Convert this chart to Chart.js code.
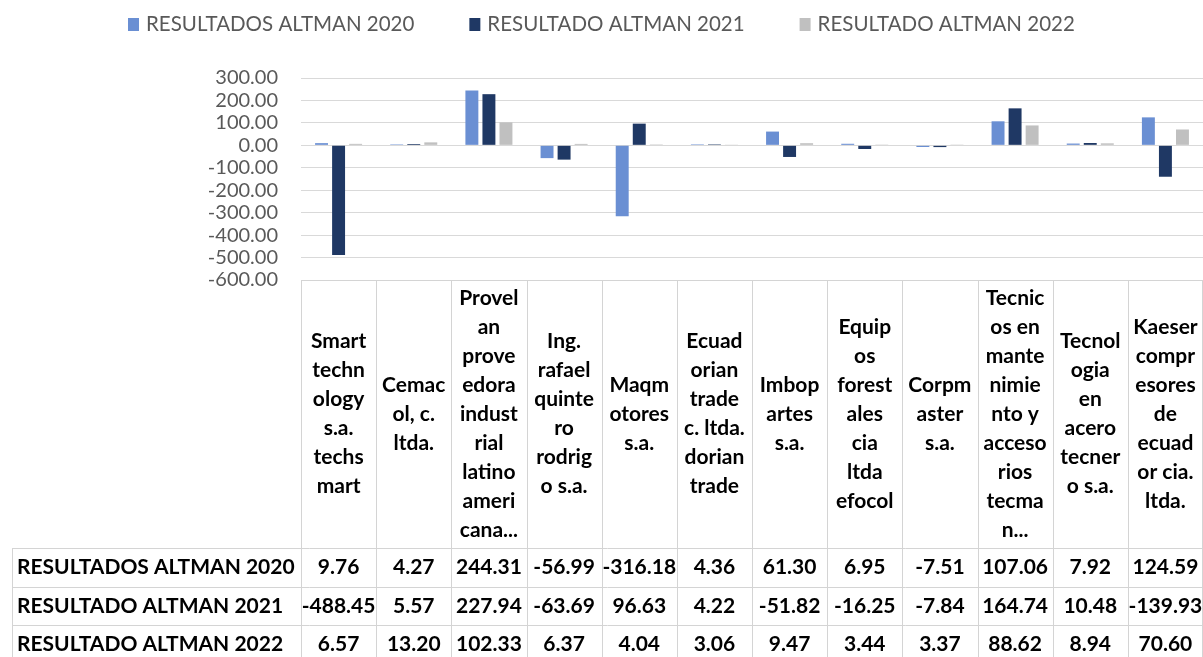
<!DOCTYPE html>
<html>
<head>
<meta charset="utf-8">
<script src="https://cdn.jsdelivr.net/npm/chart.js@4.4.0/dist/chart.umd.min.js"></script>
<style>
  html, body { margin: 0; padding: 0; background: #fff; }
  #chart { display: block; }
</style>
</head>
<body>
<canvas id="chart" width="1203" height="657"></canvas>
<script>
// category names, wrapped the way the spreadsheet shows them in the table header
const categories = [
  ['Smart', 'techn', 'ology', 's.a.', 'techs', 'mart'],
  ['Cemac', 'ol, c.', 'ltda.'],
  ['Provel', 'an', 'prove', 'edora', 'indust', 'rial', 'latino', 'ameri', 'cana...'],
  ['Ing.', 'rafael', 'quinte', 'ro', 'rodrig', 'o s.a.'],
  ['Maqm', 'otores', 's.a.'],
  ['Ecuad', 'orian', 'trade', 'c. ltda.', 'dorian', 'trade'],
  ['Imbop', 'artes', 's.a.'],
  ['Equip', 'os', 'forest', 'ales', 'cia', 'ltda', 'efocol'],
  ['Corpm', 'aster', 's.a.'],
  ['Tecnic', 'os en', 'mante', 'nimie', 'nto y', 'acceso', 'rios', 'tecma', 'n...'],
  ['Tecnol', 'ogia', 'en', 'acero', 'tecner', 'o s.a.'],
  ['Kaeser', 'compr', 'esores', 'de', 'ecuad', 'or cia.', 'ltda.']
];

const seriesNames = ['RESULTADOS ALTMAN 2020', 'RESULTADO ALTMAN 2021', 'RESULTADO ALTMAN 2022'];

const altman2020 = [9.76, 4.27, 244.31, -56.99, -316.18, 4.36, 61.30, 6.95, -7.51, 107.06, 7.92, 124.59];
const altman2021 = [-488.45, 5.57, 227.94, -63.69, 96.63, 4.22, -51.82, -16.25, -7.84, 164.74, 10.48, -139.93];
const altman2022 = [6.57, 13.20, 102.33, 6.37, 4.04, 3.06, 9.47, 3.44, 3.37, 88.62, 8.94, 70.60];

const yTicks = [300, 200, 100, 0, -100, -200, -300, -400, -500, -600];

const colors = ['#6a8fd3', '#1f3864', '#c0c0c0'];
const FONT = 'Lato, "Liberation Sans", sans-serif';
const GRID = '#d9d9d9';

const HEAD_BOTTOM = 548;
const ROW_H = 38.5;

function hline(ctx, x1, x2, y) {
  y = Math.round(y) + 0.5;
  ctx.beginPath(); ctx.moveTo(x1, y); ctx.lineTo(x2, y); ctx.stroke();
}
function vline(ctx, x, y1, y2) {
  x = Math.round(x) + 0.5;
  ctx.beginPath(); ctx.moveTo(x, y1); ctx.lineTo(x, y2); ctx.stroke();
}

const legendPlugin = {
  id: 'topLegend',
  afterDraw(chart) {
    const ctx = chart.ctx;
    ctx.save();
    ctx.font = '20.5px ' + FONT;
    ctx.textBaseline = 'middle';
    const box = 11, gap = 7, spacing = 55;
    const items = chart.data.datasets.map(ds => ({
      text: ds.label,
      color: ds.backgroundColor,
      w: box + gap + ctx.measureText(ds.label).width
    }));
    const total = items.reduce((s, it) => s + it.w, 0) + spacing * (items.length - 1);
    let x = Math.round((chart.width - total) / 2);
    items.forEach(it => {
      ctx.fillStyle = it.color;
      ctx.fillRect(x, 18, box, 13);
      ctx.fillStyle = '#595959';
      ctx.fillText(it.text, x + box + gap, 24);
      x += it.w + spacing;
    });
    ctx.restore();
  }
};

const tablePlugin = {
  id: 'dataTable',
  afterDraw(chart) {
    const ctx = chart.ctx;
    const xs = chart.scales.x;
    const area = chart.chartArea;
    const n = chart.data.labels.length;
    const colW = (area.right - area.left) / n;
    const top = area.bottom;
    const bottom = chart.height;
    const left = 12;
    const right = area.right;

    ctx.save();
    ctx.strokeStyle = '#d4d4d4';
    ctx.lineWidth = 1;
    hline(ctx, area.left, right, top);
    for (let r = 0; r < 3; r++) hline(ctx, left, right, HEAD_BOTTOM + r * ROW_H);
    vline(ctx, left, HEAD_BOTTOM, bottom);
    for (let i = 0; i <= n; i++) {
      vline(ctx, Math.min(area.left + i * colW, right - 1), top, bottom);
    }

    ctx.fillStyle = '#000';
    ctx.font = 'bold 21px ' + FONT;
    ctx.textBaseline = 'middle';
    ctx.textAlign = 'center';
    const lh = 29;
    const mid = (top + HEAD_BOTTOM) / 2;
    chart.data.labels.forEach((lines, i) => {
      const cx = xs.getPixelForValue(i);
      const y0 = mid - (lines.length - 1) * lh / 2;
      lines.forEach((t, k) => ctx.fillText(t, cx, y0 + k * lh));
    });

    chart.data.datasets.forEach((ds, r) => {
      const cy = HEAD_BOTTOM + r * ROW_H + ROW_H / 2;
      ctx.textAlign = 'left';
      ctx.fillText(ds.label, 17, cy);
      ctx.textAlign = 'center';
      ds.data.forEach((v, i) => ctx.fillText(v.toFixed(2), xs.getPixelForValue(i), cy));
    });
    ctx.restore();
  }
};

new Chart(document.getElementById('chart'), {
  type: 'bar',
  data: {
    labels: categories,
    datasets: [
      { label: seriesNames[0], data: altman2020, backgroundColor: colors[0] },
      { label: seriesNames[1], data: altman2021, backgroundColor: colors[1] },
      { label: seriesNames[2], data: altman2022, backgroundColor: colors[2] }
    ]
  },
  options: {
    responsive: false,
    animation: false,
    devicePixelRatio: 1,
    layout: { padding: { top: 78, bottom: 377, left: 0, right: 0 } },
    datasets: { bar: { categoryPercentage: 0.68, barPercentage: 0.76 } },
    scales: {
      x: { display: false },
      y: {
        min: -600,
        max: 300,
        afterBuildTicks: s => { s.ticks = yTicks.map(v => ({ value: v })); },
        afterFit: s => { s.width = 301; },
        border: { display: false },
        grid: { color: GRID, lineWidth: 1, drawTicks: false },
        ticks: {
          color: '#595959',
          padding: 23,
          autoSkip: false,
          font: { family: FONT, size: 20 },
          callback: v => v.toFixed(2)
        }
      }
    },
    plugins: {
      legend: { display: false },
      tooltip: { enabled: false }
    }
  },
  plugins: [legendPlugin, tablePlugin]
});
</script>
</body>
</html>
